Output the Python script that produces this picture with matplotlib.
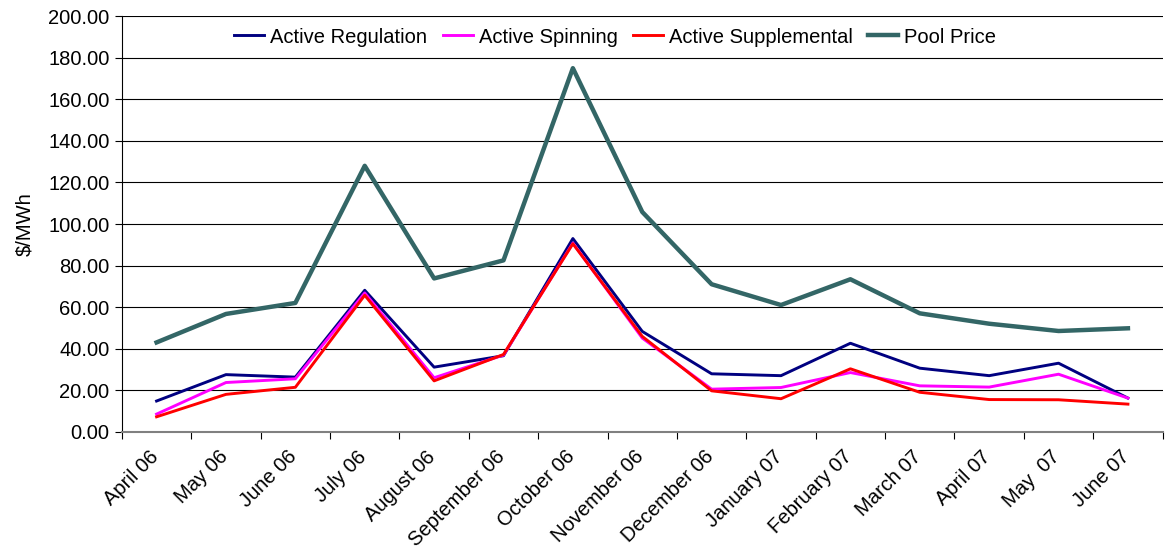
import matplotlib.pyplot as plt
import matplotlib.transforms as mtransforms
import numpy as np

plt.rcParams['font.family'] = ['Liberation Sans', 'DejaVu Sans']

months = ['April 06', 'May 06', 'June 06', 'July 06', 'August 06', 'September 06',
          'October 06', 'November 06', 'December 06', 'January 07', 'February 07',
          'March 07', 'April 07', 'May  07', 'June 07']

regulation = [14.8, 27.5, 26.3, 68.1, 31.1, 36.6, 93.0, 48.3, 27.9, 27.0, 42.6, 30.6, 27.0, 33.0, 16.2]
spinning = [8.5, 23.7, 25.5, 66.8, 26.0, 36.9, 90.8, 45.1, 20.5, 21.3, 28.5, 22.1, 21.5, 27.7, 16.2]
supplemental = [7.2, 18.0, 21.4, 65.7, 24.5, 37.2, 90.5, 45.9, 19.7, 15.9, 30.3, 19.0, 15.5, 15.4, 13.3]
pool = [43.0, 56.7, 62.0, 128.0, 73.8, 82.5, 175.0, 105.8, 71.0, 61.0, 73.4, 57.0, 52.0, 48.5, 49.8]

fs = 14.5

fig = plt.figure(figsize=(11.72, 5.6), dpi=100)
ax = fig.add_axes([0.104, 0.229, 0.888, 0.742])

x = np.arange(len(months))
ax.plot(x, regulation, color='#000080', lw=2.1, label='Active Regulation')
ax.plot(x, spinning, color='#FF00FF', lw=2.1, label='Active Spinning')
ax.plot(x, supplemental, color='#FF0000', lw=2.1, label='Active Supplemental')
ax.plot(x, pool, color='#336666', lw=3.2, label='Pool Price')

ax.set_xlim(-0.5, len(months) - 0.5)
ax.set_ylim(0, 200)
ax.set_yticks(np.arange(0, 201, 20))
ax.set_yticklabels(['%.2f' % v for v in np.arange(0, 201, 20)], fontsize=fs)
ax.yaxis.grid(True, color='black', lw=0.8)
ax.set_axisbelow(True)

# ticks at category boundaries, labels at centres
ax.set_xticks(np.arange(-0.5, len(months)), minor=False)
ax.set_xticklabels([])
ax.set_xticks(x, minor=True)
ax.set_xticklabels(months, minor=True, rotation=45, ha='right', rotation_mode='anchor',
                   fontsize=fs)
ax.tick_params(axis='x', which='minor', length=0, pad=11)
ax.tick_params(axis='x', which='major', length=5, color='black')
ax.tick_params(axis='y', length=5, pad=4)
shift = mtransforms.ScaledTranslation(-8 / 100, 0, fig.dpi_scale_trans)
for lab in ax.get_xticklabels(minor=True):
    lab.set_transform(lab.get_transform() + shift)

ax.spines['top'].set_visible(False)
ax.spines['right'].set_visible(False)
ax.spines['bottom'].set_color('#808080')
ax.spines['bottom'].set_linewidth(1.5)

ax.set_ylabel('$/MWh', fontsize=fs, labelpad=10)

ax.legend(loc='center', bbox_to_anchor=(0.474, 0.95), ncol=4, frameon=False,
          fontsize=fs, handlelength=1.5, handletextpad=0.3, columnspacing=0.75)

fig.savefig('out.png')
